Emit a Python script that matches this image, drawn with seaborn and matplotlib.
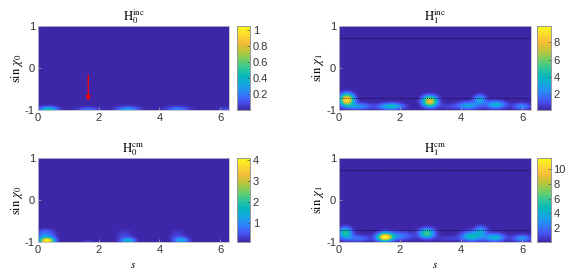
import numpy as np
import matplotlib
matplotlib.use("Agg")
import matplotlib.pyplot as plt
from matplotlib.colors import LinearSegmentedColormap
import seaborn as sns

# ---------------- data ----------------
s_max = 2 * np.pi
x_ticks = [0, 2, 4, 6]
y_ticks = [-1, 0, 1]
guide_lines = [0.707, -0.707]

titles = [r"$\mathrm{H}_0^{\mathrm{inc}}$", r"$\mathrm{H}_1^{\mathrm{inc}}$",
          r"$\mathrm{H}_0^{\mathrm{cm}}$", r"$\mathrm{H}_1^{\mathrm{cm}}$"]
ylabels = [r"$\sin\,\chi_0$", r"$\sin\,\chi_1$", r"$\sin\,\chi_0$", r"$\sin\,\chi_1$"]

cbar_ranges = [(0.0, 1.05), (0.2, 9.9), (0.1, 4.1), (0.1, 11.6)]
cbar_ticks = [[0.2, 0.4, 0.6, 0.8, 1], [2, 4, 6, 8], [1, 2, 3, 4], [2, 4, 6, 8, 10]]

# blobs: s-centre, sin-centre, amplitude, s-width, sin-width
h0_inc_s   = [0.35, 1.65, 2.95, 4.60, 6.20]
h0_inc_y   = [-1.00, -1.00, -1.00, -1.00, -1.00]
h0_inc_a   = [0.45, 0.18, 0.30, 0.22, 0.10]
h0_inc_ws  = [0.20, 0.22, 0.24, 0.24, 0.15]
h0_inc_wy  = [0.05, 0.04, 0.05, 0.05, 0.04]

h1_inc_s   = [0.25, 0.65, 1.70, 2.98, 4.25, 4.62, 5.15, 6.00, 3.60]
h1_inc_y   = [-0.76, -0.92, -0.92, -0.80, -0.90, -0.75, -0.88, -0.92, -0.92]
h1_inc_a   = [9.3, 2.5, 4.0, 8.2, 3.0, 3.0, 3.6, 2.3, 0.8]
h1_inc_ws  = [0.16, 0.28, 0.28, 0.17, 0.25, 0.14, 0.23, 0.20, 0.3]
h1_inc_wy  = [0.10, 0.06, 0.06, 0.09, 0.07, 0.08, 0.07, 0.06, 0.05]

h0_cm_s    = [0.30, 0.25, 1.65, 2.97, 2.85, 4.72, 4.60]
h0_cm_y    = [-0.98, -0.85, -1.00, -0.98, -0.85, -0.97, -0.85]
h0_cm_a    = [3.9, 1.0, 0.3, 1.4, 0.35, 1.2, 0.35]
h0_cm_ws   = [0.16, 0.22, 0.20, 0.17, 0.22, 0.17, 0.22]
h0_cm_wy   = [0.05, 0.10, 0.04, 0.05, 0.11, 0.05, 0.11]

h1_cm_s    = [0.20, 0.60, 1.50, 1.95, 2.88, 4.35, 4.65, 5.10, 6.00, 3.60]
h1_cm_y    = [-0.79, -0.92, -0.89, -0.86, -0.80, -0.87, -0.74, -0.90, -0.92, -0.92]
h1_cm_a    = [5.5, 2.0, 11.4, 2.5, 6.2, 4.8, 3.0, 4.2, 3.0, 0.8]
h1_cm_ws   = [0.15, 0.28, 0.17, 0.32, 0.17, 0.23, 0.14, 0.23, 0.20, 0.3]
h1_cm_wy   = [0.09, 0.06, 0.07, 0.07, 0.08, 0.08, 0.08, 0.07, 0.06, 0.05]

arrow_s = 1.66
arrow_from = -0.17
arrow_to = -0.78

# ---------------- parula-like colormap ----------------
parula_pts = [(0.2422, 0.1504, 0.6603), (0.2783, 0.3209, 0.9487),
              (0.1802, 0.5052, 0.9807), (0.0783, 0.6527, 0.8882),
              (0.0260, 0.7180, 0.7300), (0.1986, 0.7828, 0.6036),
              (0.4496, 0.8060, 0.3917), (0.7348, 0.7715, 0.2203),
              (0.9566, 0.7380, 0.2166), (0.9888, 0.8525, 0.1808),
              (0.9769, 0.9839, 0.0805)]
parula = LinearSegmentedColormap.from_list("parula", parula_pts)

# ---------------- grid ----------------
ns, ny = 320, 160
sg = np.linspace(0, s_max, ns)
yg = np.linspace(1, -1, ny)  # top row = +1
S, Y = np.meshgrid(sg, yg)


def field(bs, by, ba, bws, bwy):
    Z = np.zeros_like(S)
    for c, d, a, w1, w2 in zip(bs, by, ba, bws, bwy):
        Z += a * np.exp(-((S - c) / w1) ** 2 / 2 - ((Y - d) / w2) ** 2 / 2)
    return Z


fields = [field(h0_inc_s, h0_inc_y, h0_inc_a, h0_inc_ws, h0_inc_wy),
          field(h1_inc_s, h1_inc_y, h1_inc_a, h1_inc_ws, h1_inc_wy),
          field(h0_cm_s, h0_cm_y, h0_cm_a, h0_cm_ws, h0_cm_wy),
          field(h1_cm_s, h1_cm_y, h1_cm_a, h1_cm_ws, h1_cm_wy)]

W, H = 581, 278
fig = plt.figure(figsize=(W / 100, H / 100), dpi=100)
plt.rcParams["mathtext.fontset"] = "stix"
plt.rcParams["font.family"] = ["Liberation Sans", "DejaVu Sans"]

# pixel boxes: left, right, top, bottom
ax_boxes = [(37.7, 229, 26, 110), (339, 530.7, 26, 110),
            (37.7, 229, 157.7, 242), (339, 530.7, 157.7, 242)]
cb_boxes = [(236.5, 250, 26, 110), (537, 550.5, 26, 110),
            (236.5, 250, 157.7, 242), (537, 550.5, 157.7, 242)]


def rect(b):
    l, r, t, bt = b
    return [l / W, 1 - bt / H, (r - l) / W, (bt - t) / H]


def xpos(v):
    return np.asarray(v, float) / s_max * ns


def ypos(v):
    return (1 - np.asarray(v, float)) / 2 * ny


tick_col = "#333333"
for i in range(4):
    ax = fig.add_axes(rect(ax_boxes[i]))
    cax = fig.add_axes(rect(cb_boxes[i]))
    vmin, vmax = cbar_ranges[i]
    sns.heatmap(fields[i], ax=ax, cbar_ax=cax, cmap=parula, vmin=vmin, vmax=vmax,
                xticklabels=False, yticklabels=False, rasterized=True)
    ax.set_xlim(0, ns)
    ax.set_ylim(ny, 0)
    ax.set_xticks(xpos(x_ticks))
    ax.set_xticklabels([str(v) for v in x_ticks], fontsize=8, color=tick_col)
    ax.set_yticks(ypos(y_ticks))
    ax.set_yticklabels([str(v) for v in y_ticks], fontsize=8, color=tick_col)
    ax.tick_params(direction="in", length=2, width=0.5, colors="#aaaaaa",
                   labelcolor=tick_col, pad=2)
    for sp in ax.spines.values():
        sp.set_visible(True)
        sp.set_color("#bbbbbb")
        sp.set_linewidth(0.6)
    ax.set_title(titles[i], fontsize=9, pad=2)
    ax.set_ylabel(ylabels[i], fontsize=9, labelpad=0)
    if i >= 2:
        ax.set_xlabel(r"$s$", fontsize=8, labelpad=4)
    if i in (1, 3):
        for g in guide_lines:
            ax.axhline(ypos(g), color="black", linestyle=(0, (1, 1.5)), linewidth=0.6)
    # colorbar styling
    cax.set_yticks(cbar_ticks[i])
    cax.set_yticklabels([f"{t:g}" for t in cbar_ticks[i]], fontsize=8, color=tick_col)
    cax.tick_params(direction="in", length=2, width=0.5, colors="#555555",
                    labelcolor=tick_col, pad=2)
    cax.yaxis.set_ticks_position("right")
    for sp in cax.spines.values():
        sp.set_visible(True)
        sp.set_color("#999999")
        sp.set_linewidth(0.6)
    if i == 0:
        ax.annotate("", xy=(xpos(arrow_s), ypos(arrow_to)),
                    xytext=(xpos(arrow_s), ypos(arrow_from)),
                    arrowprops=dict(arrowstyle="-|>", color="red", lw=0.9,
                                    mutation_scale=7, shrinkA=0, shrinkB=0))

fig.savefig("out.png", dpi=100)
